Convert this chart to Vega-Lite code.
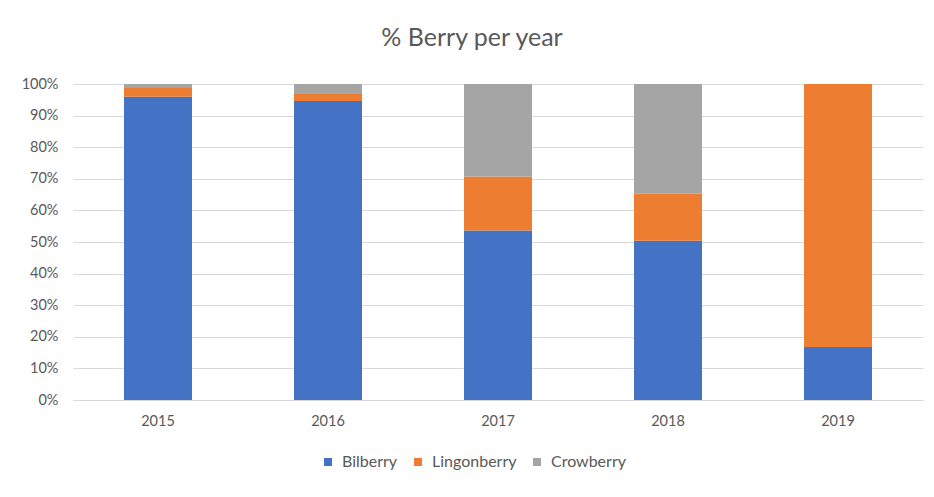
{
  "$schema": "https://vega.github.io/schema/vega-lite/v6.json",
  "autosize": "none",
  "width": 850,
  "height": 316,
  "padding": {"left": 73, "top": 84, "right": 11, "bottom": 97},
  "background": "white",
  "config": {
    "font": "Lato",
    "view": {"stroke": null},
    "axis": {"labelFont": "Lato", "labelFontSize": 14.5, "labelColor": "#595959", "titleFont": "Lato"},
    "legend": {"labelFont": "Lato", "labelFontSize": 16, "labelColor": "#595959"}
  },
  "title": {
    "text": "% Berry per year",
    "fontSize": 25,
    "font": "Lato",
    "fontWeight": "normal",
    "color": "#595959",
    "anchor": "middle",
    "dx": -26,
    "offset": 25
  },
  "data": {
    "values": [
      {"year": "2015", "berry": "Bilberry", "k": 1, "pct": 96.0},
      {"year": "2015", "berry": "Lingonberry", "k": 2, "pct": 2.7},
      {"year": "2015", "berry": "Crowberry", "k": 3, "pct": 1.3},
      {"year": "2016", "berry": "Bilberry", "k": 1, "pct": 94.6},
      {"year": "2016", "berry": "Lingonberry", "k": 2, "pct": 2.2},
      {"year": "2016", "berry": "Crowberry", "k": 3, "pct": 3.2},
      {"year": "2017", "berry": "Bilberry", "k": 1, "pct": 53.6},
      {"year": "2017", "berry": "Lingonberry", "k": 2, "pct": 17.1},
      {"year": "2017", "berry": "Crowberry", "k": 3, "pct": 29.3},
      {"year": "2018", "berry": "Bilberry", "k": 1, "pct": 50.4},
      {"year": "2018", "berry": "Lingonberry", "k": 2, "pct": 14.9},
      {"year": "2018", "berry": "Crowberry", "k": 3, "pct": 34.7},
      {"year": "2019", "berry": "Bilberry", "k": 1, "pct": 16.8},
      {"year": "2019", "berry": "Lingonberry", "k": 2, "pct": 83.2},
      {"year": "2019", "berry": "Crowberry", "k": 3, "pct": 0}
    ]
  },
  "mark": {"type": "bar"},
  "encoding": {
    "x": {
      "field": "year",
      "type": "nominal",
      "title": null,
      "scale": {"paddingInner": 0.6, "paddingOuter": 0.3},
      "axis": {"labelAngle": 0, "ticks": false, "domain": true, "domainColor": "#d9d9d9", "domainWidth": 1, "labelPadding": 14}
    },
    "y": {
      "field": "pct",
      "type": "quantitative",
      "stack": "normalize",
      "title": null,
      "scale": {"domain": [0, 1]},
      "axis": {"format": ".0%", "values": [0, 0.1, 0.2, 0.3, 0.4, 0.5, 0.6, 0.7, 0.8, 0.9, 1], "labelOverlap": false, "ticks": false, "domain": false, "grid": true, "gridColor": "#d9d9d9", "gridWidth": 1, "labelPadding": 15}
    },
    "color": {
      "field": "berry",
      "type": "nominal",
      "title": null,
      "scale": {"domain": ["Bilberry", "Lingonberry", "Crowberry"], "range": ["#4472C4", "#ED7D31", "#A5A5A5"]},
      "legend": {"orient": "none", "direction": "horizontal", "legendX": 247, "legendY": 370, "symbolType": "square", "symbolSize": 64, "symbolStrokeWidth": 0, "labelOffset": 6, "columnPadding": 12}
    },
    "order": {"field": "k", "type": "quantitative"}
  }
}
